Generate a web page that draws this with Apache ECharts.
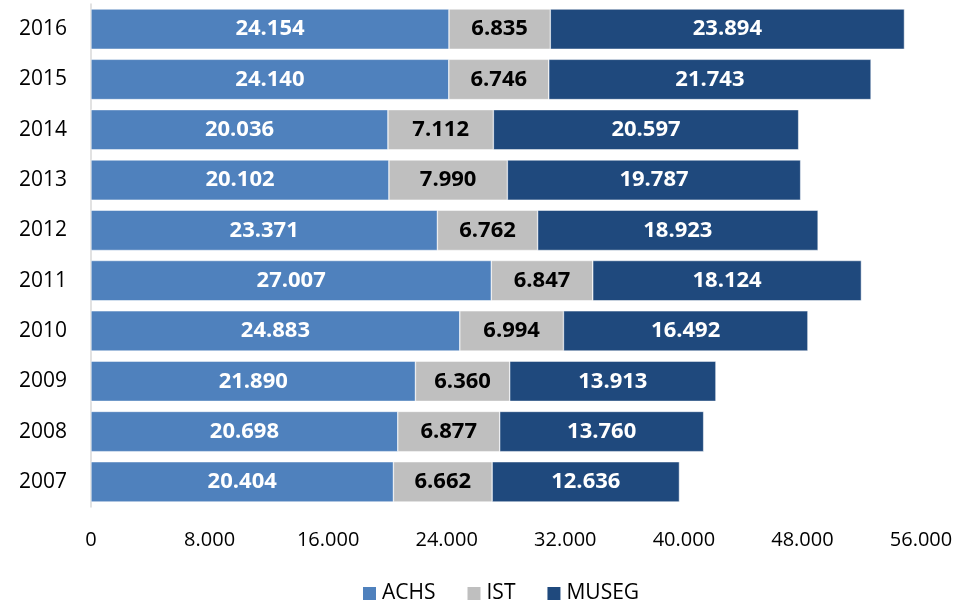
<!DOCTYPE html>
<html>
<head>
<meta charset="utf-8">
<script src="https://cdn.jsdelivr.net/npm/echarts@6/dist/echarts.min.js"></script>
<style>
  html, body { margin: 0; padding: 0; background: #fff; }
  #chart { width: 956px; height: 604px; }
</style>
</head>
<body>
<div id="chart"></div>
<script>
var years = ["2007", "2008", "2009", "2010", "2011", "2012", "2013", "2014", "2015", "2016"];
var achs = [20404, 20698, 21890, 24883, 27007, 23371, 20102, 20036, 24140, 24154];
var ist = [6662, 6877, 6360, 6994, 6847, 6762, 7990, 7112, 6746, 6835];
var museg = [12636, 13760, 13913, 16492, 18124, 18923, 19787, 20597, 21743, 23894];

var FONT = "Open Sans";

function fmt(v) {
  return String(v).replace(/\B(?=(\d{3})+(?!\d))/g, ".");
}

function makeSeries(name, data, color, labelColor) {
  return {
    name: name,
    type: "bar",
    stack: "total",
    data: data,
    barCategoryGap: "20%",
    itemStyle: { color: color, borderColor: "#fff", borderWidth: 0.5 },
    label: {
      show: true,
      position: "inside",
      color: labelColor,
      fontFamily: FONT,
      fontWeight: "bold",
      fontSize: 22,
      formatter: function (p) { return fmt(p.value); }
    }
  };
}

var chart = echarts.init(document.getElementById("chart"));
chart.setOption({
  animation: false,
  textStyle: { fontFamily: FONT },
  grid: { left: 91, right: 35, top: 4, bottom: 97 },
  legend: {
    bottom: -5,
    left: 356,
    itemWidth: 15,
    itemHeight: 15,
    itemGap: 30,
    icon: "rect",
    textStyle: { fontSize: 21, color: "#000", fontFamily: FONT },
    data: ["ACHS", "IST", "MUSEG"]
  },
  xAxis: {
    type: "value",
    min: 0,
    max: 56000,
    interval: 8000,
    splitLine: { show: false },
    axisLine: { show: false },
    axisTick: { show: false },
    axisLabel: {
      color: "#000",
      fontSize: 20,
      margin: 23,
      formatter: function (v) { return fmt(v); }
    }
  },
  yAxis: {
    type: "category",
    data: years,
    axisLine: { show: true, lineStyle: { color: "#d9d9d9", width: 1.5 } },
    axisTick: { show: false },
    axisLabel: { color: "#000", fontSize: 21, margin: 24 }
  },
  series: [
    makeSeries("ACHS", achs, "#4F81BD", "#fff"),
    makeSeries("IST", ist, "#BFBFBF", "#000"),
    makeSeries("MUSEG", museg, "#1F497D", "#fff")
  ]
});
</script>
</body>
</html>
